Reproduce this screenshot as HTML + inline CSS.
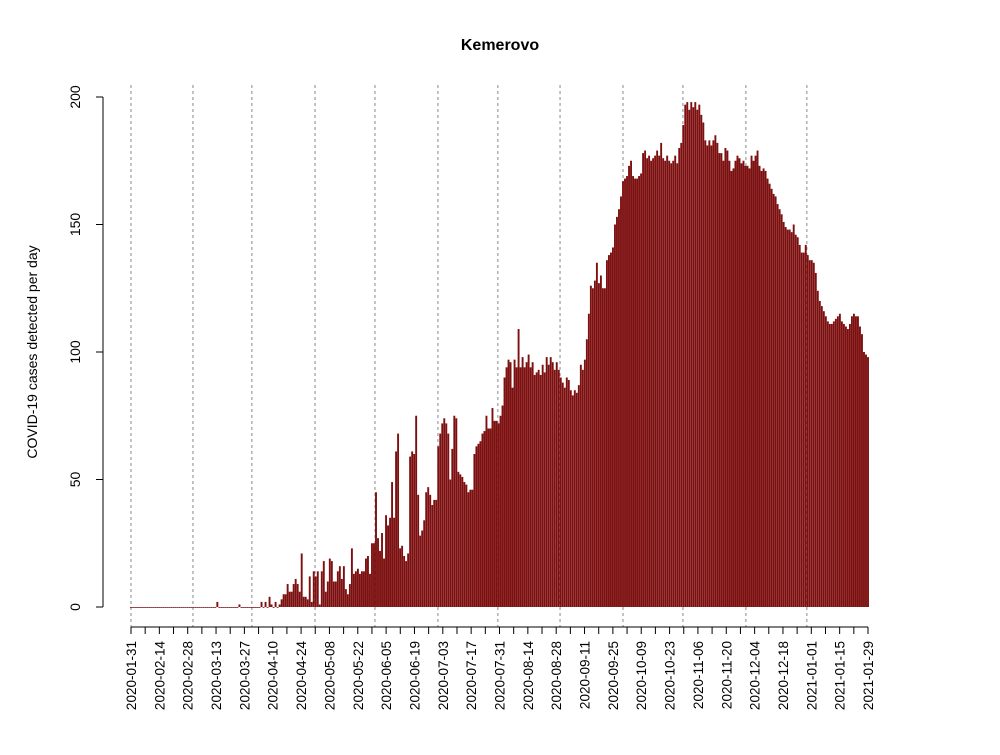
<!DOCTYPE html>
<html><head><meta charset="utf-8"><style>
body{margin:0;background:#fff;}
svg text{font-family:"Liberation Sans",Arial,sans-serif;fill:#000;}
</style></head><body>
<svg id="chart" width="1000" height="750" xmlns="http://www.w3.org/2000/svg">
<text x="500" y="50" text-anchor="middle" font-size="16" font-weight="bold">Kemerovo</text>
<text transform="translate(37,352) rotate(-90)" text-anchor="middle" font-size="14">COVID-19 cases detected per day</text>
<g id="grid"></g><g id="bars"></g><g id="axes"></g>
</svg>
<script>
const startDate = "2020-01-31";
const yTicks = [0, 50, 100, 150, 200];
const markerDays = [0, 30.6, 59.7, 90.9, 120.5, 151.6, 181.2, 211.9, 243, 272.6, 303.7, 333.8];
const casesEarly = [0,0,0,0,0,0,0,0,0,0, 0,0,0,0,0,0,0,0,0,0, 0,0,0,0,0,0,0,0,0,0, 0,0,0,0,0,0,0,0,0,0, 0,0,0,2,0,0,0,0,0,0, 0,0,0,0,1,0,0,0,0,0, 0,0,0,0,0,
 2,0,2,0,4,1,0,2,0,1];
const casesSpring = [3,5,5,9,6,6,9,11,9,6,21,4,4,3,12,2,14,12,14,1,14,18,6,10,19,18,10,10,14,16,11,16,7,5,9,23,13,14,15,13,14,14,19,20,13,25,25,45,27,22,29,19,36,32,35,49,35,61,68,23,24,20,18,21,59,61,60,75,44,28,30,34,45,47,44,40,42,42,63,68,72,74,72,68,50,62,75,74,53,52,51,49,48,45,46,46,60,63,64,65,68,69,75,70,70,78];
const casesAutumn = [73,73,72,75,79,90,94,97,96,86,97,94,109,94,98,94,96,99,94,96,91,92,93,91,95,92,98,95,98,96,93,96,93,90,88,86,90,89,85,83,85,84,87,95,93,97,105,115,126,125,128,135,127,130,125,125,136,138,139,141,150,153,156,161,167,168,169,173,175,169,168,168,169,170,178,179,176,177,175,176,177,179,177,182,176,175,177,175,174,175,177,174];
const casesWinter = [180,182,189,197,198,195,198,196,198,195,197,193,190,183,181,183,181,183,185,182,178,178,175,180,179,175,171,172,175,177,176,174,175,173,173,172,177,175,177,179,173,171,172,171,168,166,164,162,161,158,156,154,151,149,148,148,147,150,146,145,142,139,139,142,138,136,136,135,131,124,120,118,116,114,112,111,111,112,113,114,115,112,111,110,109,111,114,115,114,114,110,107,100,99,98];
const values = casesEarly.concat(casesSpring, casesAutumn, casesWinter);

const NS = "http://www.w3.org/2000/svg";
const X0 = 131, X1 = 868, Y0 = 607, Y1 = 97, SPAN = 364;
const xDay = d => X0 + d * (X1 - X0) / SPAN;
const xBar = i => X0 + i * (X1 - X0) / (values.length - 1);
const y = v => Y0 - v * (Y0 - Y1) / 200;
function mk(tag, attrs, parent) {
  const e = document.createElementNS(NS, tag);
  for (const k in attrs) e.setAttribute(k, attrs[k]);
  parent.appendChild(e); return e;
}
const grid = document.getElementById('grid'), bars = document.getElementById('bars'), axes = document.getElementById('axes');
markerDays.forEach(d => {
  const l = mk('line', {x1: xDay(d), x2: xDay(d), y1: 85, y2: 627, stroke: '#888', 'stroke-width': 1, 'stroke-dasharray': '3,3'}, grid);
  
  
});
values.forEach((v, i) => {
  const h = Y0 - y(v);
  const r = mk('rect', {x: xBar(i) - 0.95, y: y(v), width: 1.9, height: Math.max(h, 0.8), fill: '#7c0f0f'}, bars);
  
  
});
let ya = mk('line', {x1: 103, x2: 103, y1: y(200), y2: y(0), stroke: '#000'}, axes);


yTicks.forEach(t => {
  mk('line', {x1: 96, x2: 103, y1: y(t), y2: y(t), stroke: '#000'}, axes);
  const tx = mk('text', {transform: `translate(80,${y(t)}) rotate(-90)`, 'text-anchor': 'middle', 'font-size': 14}, axes);
  tx.textContent = t;
  
  
});
let xa = mk('line', {x1: X0, x2: X1, y1: 627, y2: 627, stroke: '#000'}, axes);


const base = new Date(startDate + "T00:00:00Z");
for (let d = 0; d <= SPAN; d += 7) {
  mk('line', {x1: xDay(d), x2: xDay(d), y1: 627, y2: 634, stroke: '#000'}, axes);
  if (d % 14 === 0) {
    const dt = new Date(base.getTime() + d * 86400000);
    const tx = mk('text', {transform: `translate(${xDay(d) + 5},641) rotate(-90)`, 'text-anchor': 'end', 'font-size': 13.5}, axes);
    tx.textContent = dt.toISOString().slice(0, 10);
    
    
  }
}
</script>
</body></html>
